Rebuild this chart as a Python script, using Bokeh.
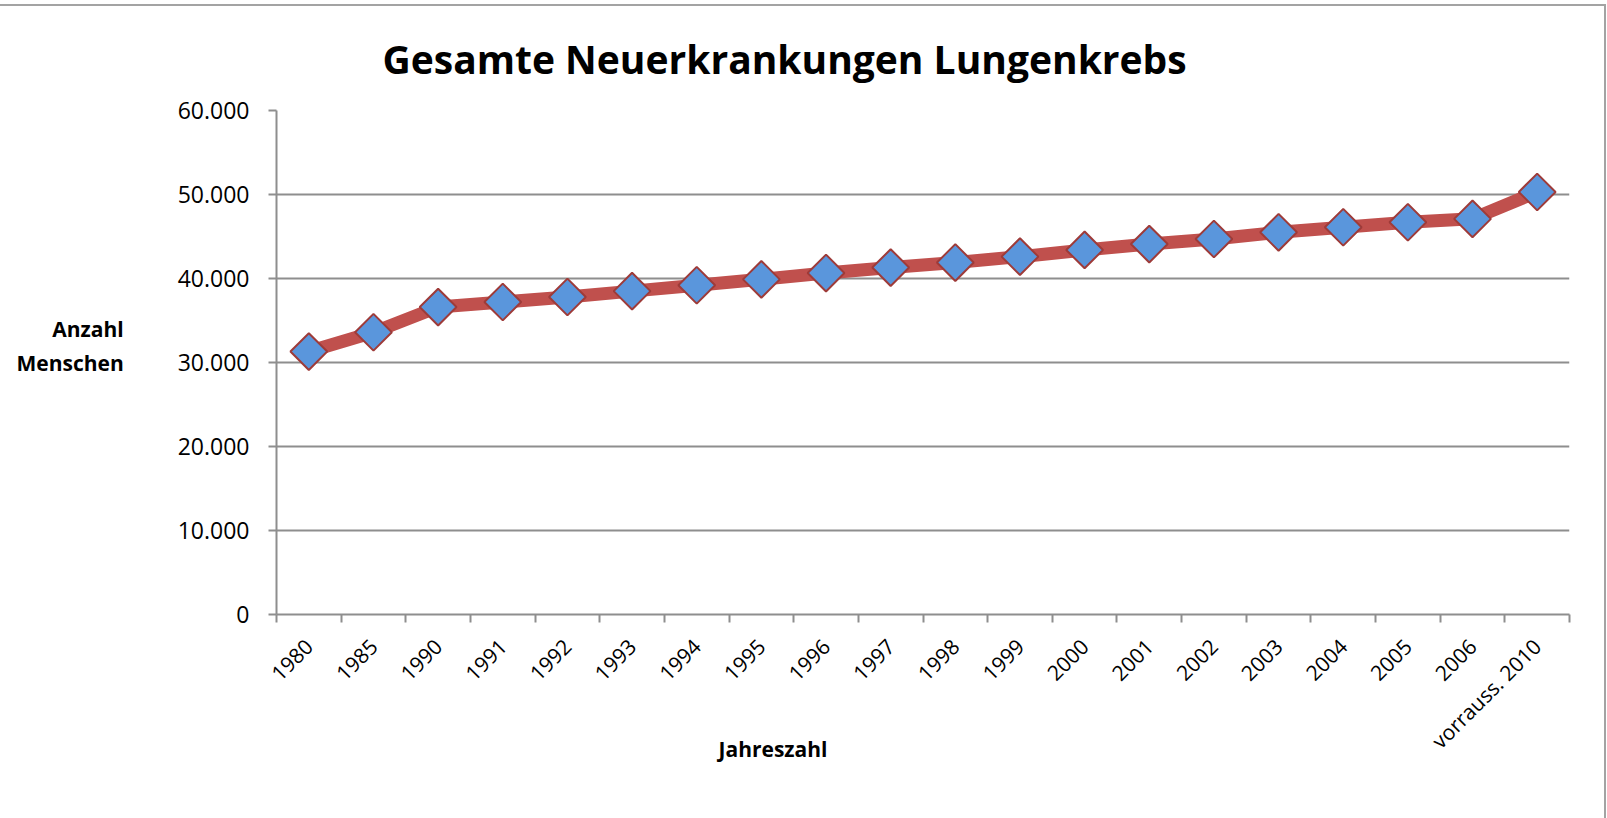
import math
from bokeh.plotting import figure
from bokeh.models import Range1d, FixedTicker, Title, ColumnDataSource
from bokeh.embed import file_html
from bokeh.resources import INLINE

title_text = "Gesamte Neuerkrankungen Lungenkrebs"
categories = ["1980", "1985", "1990", "1991", "1992", "1993", "1994", "1995", "1996",
              "1997", "1998", "1999", "2000", "2001", "2002", "2003", "2004", "2005",
              "2006", "vorrauss. 2010"]
values = [31300, 33600, 36600, 37200, 37800, 38500, 39200, 39900, 40650,
          41300, 41900, 42600, 43400, 44100, 44700, 45500, 46100, 46700,
          47100, 50300]
y_ticks = [0, 10000, 20000, 30000, 40000, 50000, 60000]
y_tick_labels = ["0", "10.000", "20.000", "30.000", "40.000", "50.000", "60.000"]
y_label = "Anzahl\nMenschen\n"
x_label = "Jahreszahl"

FONT = "Open Sans"
GRID = "#8e8e8e"
BORDER = "#a3a3a3"

positions = [i + 0.5 for i in range(len(categories))]
boundaries = list(range(len(categories) + 1))
src = ColumnDataSource(data=dict(x=positions, y=values, cat=categories))

p = figure(width=1607, height=818, output_backend="svg", toolbar_location=None,
           x_range=Range1d(0, len(categories)), y_range=Range1d(y_ticks[0], y_ticks[-1]),
           min_border_left=276, min_border_right=38, min_border_top=110,
           min_border_bottom=204)
p.outline_line_color = None
p.background_fill_color = "white"
p.border_fill_color = None
p.styles = {
    "background": (f"linear-gradient({BORDER}, {BORDER}) 0px 4px / 1606px 2px no-repeat, "
                   f"linear-gradient({BORDER}, {BORDER}) 1604px 4px / 2px 814px no-repeat, "
                   "white"),
}

p.title.text = title_text
p.title.align = "left"
p.title.offset = 106
p.title.standoff = 52
p.title.vertical_align = "bottom"
p.title.text_font = FONT
p.title.text_font_style = "bold"
p.title.text_font_size = "39px"
p.title.text_color = "black"

p.line(x="x", y="y", source=src, line_color="#C0504D", line_width=13, line_join="round")
p.scatter(x="x", y="y", source=src, marker="square", angle=math.pi / 4, size=26,
          fill_color="#5A96DC", line_color="#9E3B39", line_width=2)

# x axis
p.xaxis.ticker = FixedTicker(ticks=positions, minor_ticks=boundaries)
p.xaxis.major_label_overrides = {pos: cat for pos, cat in zip(positions, categories)}
p.xaxis.major_tick_out = 0
p.xaxis.major_tick_in = 0
p.xaxis.minor_tick_out = 8
p.xaxis.minor_tick_in = 0
p.xaxis.minor_tick_line_color = GRID
p.xaxis.minor_tick_line_width = 2
p.xaxis.axis_line_color = GRID
p.xaxis.axis_line_width = 2
p.xaxis.major_label_orientation = math.pi / 4
p.xaxis.major_label_text_font = FONT
p.xaxis.major_label_text_font_size = "21px"
p.xaxis.major_label_text_color = "black"
p.xaxis.major_label_standoff = 20

x_title = Title(text=x_label, align="left", offset=442, standoff=-66, vertical_align="top",
                text_font=FONT, text_font_style="bold", text_font_size="21px",
                text_color="black")
p.add_layout(x_title, "below")

# y axis
p.yaxis.ticker = FixedTicker(ticks=y_ticks, minor_ticks=[])
p.yaxis.major_label_overrides = {t: l for t, l in zip(y_ticks, y_tick_labels)}
p.yaxis.major_tick_out = 8
p.yaxis.major_tick_in = 0
p.yaxis.major_tick_line_color = GRID
p.yaxis.major_tick_line_width = 2
p.yaxis.minor_tick_out = 0
p.yaxis.minor_tick_in = 0
p.yaxis.axis_line_color = GRID
p.yaxis.axis_line_width = 2
p.yaxis.major_label_text_font = FONT
p.yaxis.major_label_text_font_size = "23px"
p.yaxis.major_label_text_color = "black"
p.yaxis.major_label_standoff = 19
p.yaxis.axis_label = y_label
p.yaxis.axis_label_orientation = "horizontal"
p.yaxis.axis_label_standoff = 51
p.yaxis.axis_label_text_font = FONT
p.yaxis.axis_label_text_font_style = "bold"
p.yaxis.axis_label_text_font_size = "21px"
p.yaxis.axis_label_text_color = "black"

p.xgrid.visible = False
p.ygrid.ticker = FixedTicker(ticks=y_ticks, minor_ticks=[])
p.ygrid.grid_line_color = GRID
p.ygrid.grid_line_width = 2

open("out.html", "w").write(file_html(p, INLINE))
